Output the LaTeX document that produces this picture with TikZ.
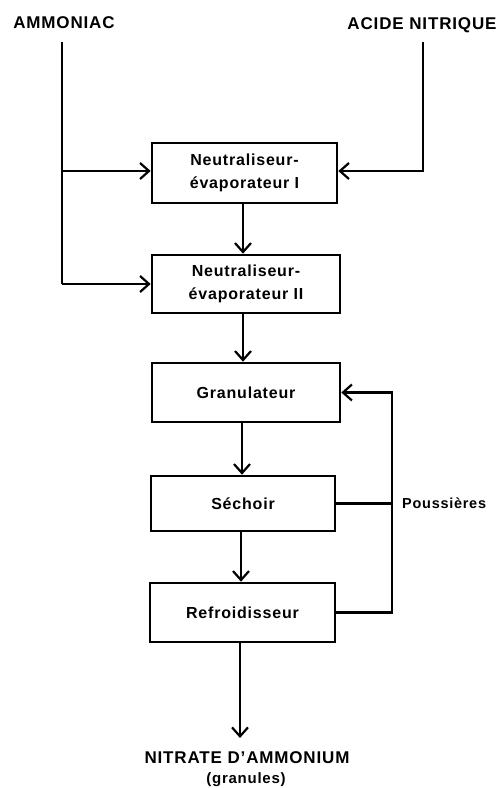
\documentclass[tikz,border=0pt]{standalone}
\usepackage{fontspec}
\setmainfont{Liberation Sans}[LetterSpace=5]
\usetikzlibrary{arrows.meta}
\begin{document}
\begin{tikzpicture}[x=1pt,y=-1pt,
  flow/.style={line width=2.2pt, line join=miter},
  tip/.style={-{Straight Barb[length=9pt,width=16pt,line width=2.2pt]}},
  unit/.style={draw, line width=2.6pt, align=center, inner sep=0pt,
    font=\fontsize{16}{23}\selectfont\bfseries},
  feed/.style={font=\fontsize{17}{20}\selectfont\bfseries, inner sep=0pt}]
\useasboundingbox (0,0) rectangle (503,788);

% feed streams
\node[feed] (amm) at (64,23) {AMMONIAC};
\node[feed] (acid) at (422,25) {ACIDE NITRIQUE};

% process units
\node[unit, minimum width=185pt, minimum height=60pt] (n1) at (244.5,173)
  {Neutraliseur-\\évaporateur I};
\node[unit, minimum width=188pt, minimum height=58pt] (n2) at (246,284)
  {Neutraliseur-\\évaporateur II};
\node[unit, minimum width=188pt, minimum height=59pt] (gran) at (246,392.5)
  {Granulateur};
\node[unit, minimum width=184pt, minimum height=55pt] (sech) at (243,503.5)
  {Séchoir};
\node[unit, minimum width=185pt, minimum height=59pt] (refr) at (242.5,612.5)
  {Refroidisseur};

% product
\node[feed] (prod) at (247,758) {NITRATE D’AMMONIUM};
\node[font=\fontsize{15}{17}\selectfont\bfseries, inner sep=0pt] (gr) at (246,780) {(granules)};
\node[font=\fontsize{14.5}{17}\selectfont\bfseries, inner sep=0pt, anchor=west] (pous) at (402,503) {Poussières};

% routing points
\coordinate (aTop) at (62,42);
\coordinate (aJ1) at (62,171);
\coordinate (aJ2) at (62,284);
\coordinate (cTop) at (423,42);
\coordinate (cJ) at (423,171);
\coordinate (rJ) at (392,612.5);
\coordinate (gJ) at (392,392.5);
\coordinate (sJ) at (392,503.5);
\coordinate (out) at (240,738);

% ammonia feed to both neutralisers
\draw[flow] (aTop) -- (aJ2);
\draw[flow, tip] (aJ1) -- (aJ1 -| n1.west);
\draw[flow, tip] (aJ2) -- (n2.west);

% nitric acid feed
\draw[flow, tip] (cTop) -- (cJ) -- (cJ -| n1.east);

% main line
\draw[flow, tip] (n1.south -| 243,0) -- (n2.north -| 243,0);
\draw[flow, tip] (n2.south -| 243,0) -- (gran.north -| 243,0);
\draw[flow, tip] (gran.south -| 242,0) -- (sech.north -| 242,0);
\draw[flow, tip] (sech.south -| 241,0) -- (refr.north -| 241,0);
\draw[flow, tip] (refr.south -| out) -- (out);

% dust recycle
\draw[flow, tip] (refr.east) -- (rJ) -- (gJ) -- (gran.east);
\draw[flow] (sech.east) -- (sJ);
\end{tikzpicture}
\end{document}
